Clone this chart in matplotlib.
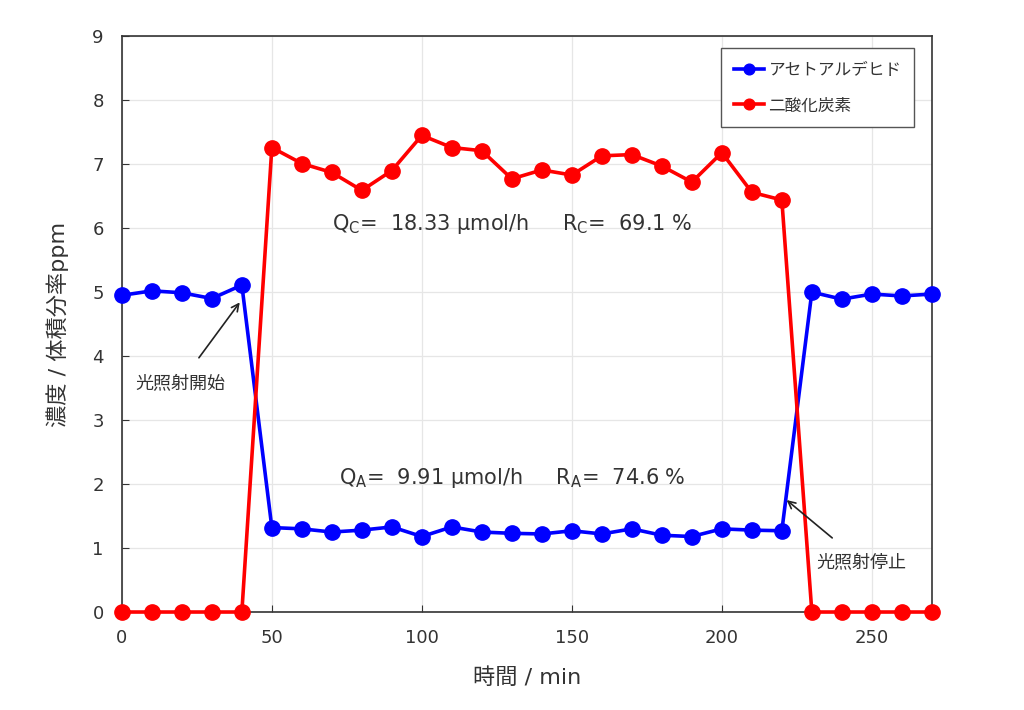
import matplotlib
matplotlib.use('Agg')
import matplotlib.pyplot as plt

plt.rcParams['font.family'] = ['DejaVu Sans', 'Noto Sans CJK JP']

time_min = [0, 10, 20, 30, 40, 50, 60, 70, 80, 90, 100, 110, 120, 130, 140,
            150, 160, 170, 180, 190, 200, 210, 220, 230, 240, 250, 260, 270]
acetaldehyde = [4.95, 5.02, 4.99, 4.90, 5.11, 1.32, 1.30, 1.25, 1.28, 1.33,
                1.18, 1.33, 1.25, 1.23, 1.22, 1.27, 1.22, 1.30, 1.20, 1.18,
                1.30, 1.28, 1.27, 5.00, 4.89, 4.97, 4.94, 4.97]
co2 = [0, 0, 0, 0, 0, 7.26, 7.01, 6.87, 6.59, 6.90, 7.45, 7.26, 7.21, 6.77,
       6.91, 6.83, 7.13, 7.15, 6.97, 6.72, 7.18, 6.56, 6.44, 0, 0, 0, 0, 0]
series_names = ['アセトアルデヒド', '二酸化炭素']

fig = plt.figure(figsize=(10.24, 7.1), dpi=100)
ax = fig.add_axes([0.119, 0.138, 0.791, 0.811])

ax.plot(time_min, acetaldehyde, color='#0000ff', lw=2.6, marker='o', ms=11,
        label=series_names[0], clip_on=False, zorder=3)
ax.plot(time_min, co2, color='#ff0000', lw=2.6, marker='o', ms=11,
        label=series_names[1], clip_on=False, zorder=3)

ax.set_xlim(0, 270)
ax.set_ylim(0, 9)
ax.set_xticks(range(0, 251, 50))
ax.set_yticks(range(0, 10))
ax.grid(True, color='#e6e6e6', lw=0.9)
ax.set_axisbelow(True)
ax.tick_params(direction='in', labelsize=13, length=5, colors='#333333',
               labelcolor='#333333')
ax.tick_params(axis='y', pad=13)
ax.tick_params(axis='x', pad=12)
for s in ax.spines.values():
    s.set_color('#333333')
    s.set_linewidth(1.2)

ax.set_xlabel('時間 / min', fontsize=16, color='#333333', labelpad=15)
ax.set_ylabel('濃度 / 体積分率ppm', fontsize=16, color='#333333', labelpad=17)

ax.text(130, 6.06, r'Q$_\mathregular{C}$=  18.33 μmol/h     R$_\mathregular{C}$=  69.1 %',
        fontsize=15, color='#333333', ha='center', va='center')
ax.text(130, 2.09, r'Q$_\mathregular{A}$=  9.91 μmol/h     R$_\mathregular{A}$=  74.6 %',
        fontsize=15, color='#333333', ha='center', va='center')

ax.annotate('光照射開始', xy=(39.3, 4.84), xytext=(19.5, 3.58),
            fontsize=13, color='#333333', ha='center', va='center',
            arrowprops=dict(arrowstyle='->', color='#222222', lw=1.2,
                            shrinkA=12, shrinkB=0))
ax.annotate('光照射停止', xy=(221.6, 1.75), xytext=(246.5, 0.78),
            fontsize=13, color='#333333', ha='center', va='center',
            arrowprops=dict(arrowstyle='->', color='#222222', lw=1.2,
                            shrinkA=14, shrinkB=0))

leg = ax.legend(loc='upper right', bbox_to_anchor=(0.978, 0.979), borderaxespad=0,
                fontsize=12, markerscale=0.7, fancybox=False, edgecolor='#555555',
                framealpha=1, borderpad=0.75, labelspacing=1.05,
                handlelength=1.8, handletextpad=0.3)
leg.get_frame().set_linewidth(1.0)
for t in leg.get_texts():
    t.set_color('#333333')

fig.savefig('out.png', dpi=100)
